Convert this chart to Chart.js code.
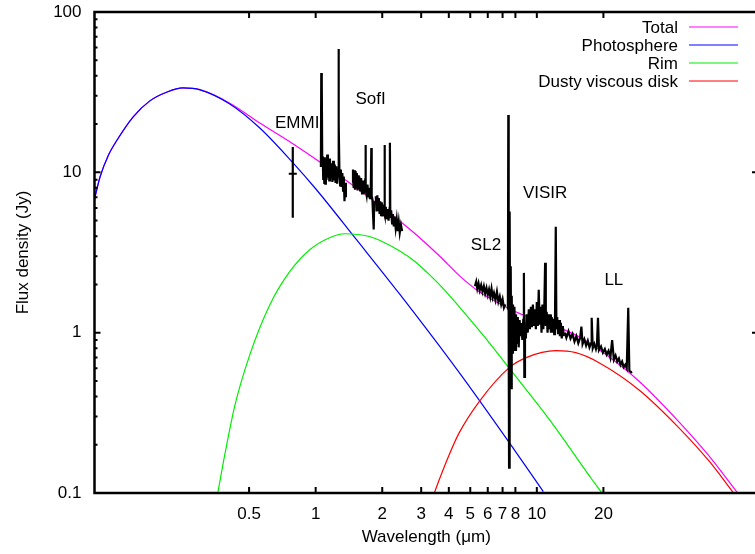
<!DOCTYPE html>
<html><head><meta charset="utf-8">
<script src="https://cdn.jsdelivr.net/npm/chart.js@4/dist/chart.umd.min.js"></script>
<style>html,body{margin:0;padding:0;overflow:hidden;background:#fff}</style>
</head><body>
<canvas id="c" width="764" height="554"></canvas>
<script>
// ---- tick values ----
const xTicks = [0.5, 1, 2, 3, 4, 5, 6, 7, 8, 10, 20];
const yTicks = [0.1, 1, 10, 100];

// ---- model curves [wavelength (um), flux (Jy)] ----
const total = [[0.0998,6.74],[0.106,9.38],[0.1153,12.7],[0.1265,15.9],[0.1496,22.2],[0.178,27.9],[0.213,31.7],[0.251,33.6],[0.300,32.8],[0.409,27.0],[0.559,20.3],[0.788,15.1],[1.075,11.3],[1.42,8.6],[1.88,6.46],[2.39,4.99],[2.85,4.08],[3.62,3.02],[4.46,2.27],[5.49,1.80],[6.76,1.52],[8.32,1.32],[10.24,1.19],[12.6,1.074],[15.5,0.944],[19.1,0.784],[28.9,0.50],[43.8,0.279],[59.9,0.171],[80.9,0.10]];
const photosphere = [[0.0998,6.74],[0.106,9.38],[0.1153,12.7],[0.1265,15.9],[0.1496,22.2],[0.178,27.9],[0.213,31.7],[0.251,33.6],[0.300,32.7],[0.409,26.7],[0.559,18.9],[0.788,11.5],[1.0,7.9],[1.53,3.80],[2.39,1.75],[4.46,0.563],[7.66,0.198],[10.7,0.102]];
const rim = [[0.361,0.10],[0.389,0.176],[0.431,0.351],[0.504,0.73],[0.620,1.49],[0.763,2.40],[0.94,3.29],[1.156,3.91],[1.35,4.14],[1.75,3.98],[1.944,3.77],[2.39,3.24],[2.80,2.79],[3.27,2.30],[3.82,1.85],[4.46,1.45],[5.79,0.944],[7.5,0.60],[11.4,0.287],[17.8,0.121],[19.7,0.10]];
const disk = [[3.44,0.10],[3.62,0.121],[4.02,0.174],[4.46,0.238],[5.49,0.372],[7.50,0.605],[8.95,0.699],[12.2,0.772],[15.0,0.750],[19.1,0.650],[28.9,0.441],[43.8,0.256],[59.9,0.159],[77.6,0.10]];

// ---- observations ----
const emmiPoint = [[0.788,9.8]];
const emmiErr = [[0.788,5.2],[0.788,14.4]];
const sofiJ = [[1.056,10.8],[1.060,41.7],[1.064,13.0],[1.067,36.0],[1.071,11.5],[1.076,12.6],[1.082,9.1],[1.088,11.8],[1.094,8.6],[1.100,12.4],[1.106,8.5],[1.112,11.6],[1.120,9.0],[1.128,12.9],[1.136,9.3],[1.144,11.9],[1.152,8.9],[1.160,12.2],[1.170,9.2],[1.180,11.4],[1.190,8.7],[1.200,11.8],[1.210,8.9],[1.220,11.2],[1.230,8.6],[1.240,10.9],[1.250,8.5],[1.262,10.4],[1.268,25.0],[1.271,58.8],[1.274,20.0],[1.280,10.6],[1.290,8.3],[1.300,10.4],[1.310,8.1],[1.320,9.9],[1.330,7.7],[1.340,9.4],[1.350,6.6],[1.360,8.6],[1.370,7.0]];
const sofiH = [[1.465,8.6],[1.475,10.4],[1.485,8.0],[1.495,10.3],[1.505,7.8],[1.515,10.2],[1.525,8.1],[1.535,9.9],[1.545,7.7],[1.555,9.6],[1.565,7.9],[1.575,9.4],[1.590,7.6],[1.605,9.2],[1.620,7.4],[1.635,8.9],[1.650,7.3],[1.665,8.6],[1.675,9.0],[1.680,14.8],[1.686,7.8],[1.700,7.2],[1.715,8.4],[1.730,7.0],[1.745,8.0],[1.760,6.8],[1.775,7.8],[1.785,14.2],[1.792,7.1],[1.805,6.8],[1.820,5.2],[1.830,4.4],[1.840,6.6]];
const sofiK = [[1.870,7.1],[1.885,5.7],[1.900,7.2],[1.915,5.8],[1.930,6.9],[1.945,5.5],[1.960,6.6],[1.975,5.4],[1.990,6.5],[2.005,5.3],[2.020,6.3],[2.040,5.6],[2.048,14.8],[2.056,5.4],[2.075,6.1],[2.095,5.1],[2.115,5.9],[2.135,5.0],[2.160,6.0],[2.166,15.3],[2.175,5.2],[2.195,5.8],[2.215,4.8],[2.235,5.5],[2.255,4.6],[2.275,5.3],[2.300,4.5],[2.325,5.1],[2.350,4.3],[2.375,4.9],[2.400,4.2],[2.430,4.7],[2.460,4.3]];
const sl2 = [[5.25,1.95],[5.32,2.08],[5.38,1.88],[5.45,2.03],[5.52,1.84],[5.60,1.98],[5.68,1.80],[5.76,1.95],[5.84,1.76],[5.92,1.90],[6.00,1.72],[6.08,1.86],[6.16,1.68],[6.24,1.88],[6.32,1.66],[6.40,1.77],[6.50,1.60],[6.60,1.80],[6.70,1.56],[6.80,1.68],[6.90,1.50],[7.00,1.62],[7.10,1.43],[7.20,1.50]];
const visir = [[7.35,1.40],[7.40,1.9],[7.43,22.8],[7.46,0.9],[7.49,0.144],[7.52,2.2],[7.55,5.7],[7.58,0.6],[7.62,2.6],[7.66,0.45],[7.70,1.7],[7.75,0.75],[7.80,1.5],[7.86,0.95],[7.92,1.45],[7.98,0.78],[8.05,1.30],[8.12,0.85],[8.20,1.25],[8.28,0.81],[8.36,1.20],[8.44,0.95],[8.52,1.15],[8.60,0.90],[8.68,1.20],[8.74,2.36],[8.78,0.53],[8.84,1.10],[8.92,0.92],[9.00,1.30],[9.10,1.00],[9.20,1.40],[9.30,1.05],[9.40,1.45],[9.50,1.08],[9.60,1.50],[9.70,1.10],[9.80,1.40],[9.90,1.05],[10.00,1.55],[10.10,1.10],[10.20,1.85],[10.30,1.12],[10.40,1.45],[10.50,1.00],[10.60,1.50],[10.70,1.05],[10.80,1.35],[10.90,2.73],[10.98,1.10],[11.08,1.35],[11.18,1.00],[11.28,1.30],[11.38,1.05],[11.48,1.30],[11.58,1.00],[11.68,1.25],[11.78,1.00],[11.88,1.22],[11.98,0.98],[12.08,1.20],[12.18,4.57],[12.26,1.05],[12.36,1.25],[12.48,0.98],[12.60,1.20],[12.72,0.95],[12.84,1.15],[12.96,0.92],[13.10,1.10],[13.25,0.95]];
const ll = [[13.4,1.00],[13.6,0.93],[13.9,1.02],[14.2,0.92],[14.5,0.98],[14.8,0.88],[15.1,0.95],[15.4,0.86],[15.7,0.93],[15.9,1.09],[16.1,0.85],[16.4,0.91],[16.7,0.83],[17.0,0.89],[17.3,0.81],[17.6,0.86],[17.7,1.24],[17.9,0.80],[18.2,0.85],[18.5,0.79],[18.7,0.84],[18.9,1.24],[19.1,0.78],[19.5,0.82],[19.9,0.75],[20.3,0.79],[20.7,0.73],[21.1,0.77],[21.5,0.70],[21.9,0.90],[22.3,0.68],[22.7,0.72],[23.1,0.66],[23.5,0.69],[23.9,0.63],[24.3,0.66],[24.7,0.61],[25.1,0.63],[25.5,0.60],[25.9,1.43],[26.2,0.58],[26.6,0.57],[26.9,0.56]];

// ---- text notes [label, wavelength, flux at baseline] ----
const notes = [["EMMI",0.825,18.9],["SofI",1.77,26.6],["SL2",5.89,3.26],["VISIR",10.9,6.91],["LL",22.3,1.99]];

const FONT = "'Liberation Sans', Arial, Helvetica, sans-serif";
const toXY = arr => arr.map(p => ({x: p[0], y: p[1]}));
const model = (label, arr, color, order) => ({label, data: toXY(arr), borderColor: color, backgroundColor: color,
  borderWidth: 1.2, pointRadius: 0, showLine: true, fill: false, cubicInterpolationMode: 'monotone', order, isModel: true});
const spec = (label, arr) => ({label, data: toXY(arr), borderColor: '#000', backgroundColor: '#000',
  borderWidth: 2.2, pointRadius: 0, showLine: true, fill: false, tension: 0, order: 0});

const frameTicks = {
  id: 'frameTicks',
  afterDatasetsDraw(chart) {
    const {ctx, chartArea: a, scales: {x, y}} = chart;
    ctx.save();
    ctx.strokeStyle = '#000';
    ctx.lineWidth = 2;
    ctx.beginPath();
    for (const v of xTicks) {
      const px = x.getPixelForValue(v);
      ctx.moveTo(px, a.bottom); ctx.lineTo(px, a.bottom - 6);
      ctx.moveTo(px, a.top); ctx.lineTo(px, a.top + 6);
    }
    for (const d of yTicks) {
      const py = y.getPixelForValue(d);
      ctx.moveTo(a.left, py); ctx.lineTo(a.left + 6, py);
      ctx.moveTo(a.right, py); ctx.lineTo(a.right - 6, py);
      if (d < 100) {
        for (let k = 2; k <= 9; k++) {
          const q = y.getPixelForValue(d * k);
          ctx.moveTo(a.left, q); ctx.lineTo(a.left + 3, q);
          ctx.moveTo(a.right, q); ctx.lineTo(a.right - 3, q);
        }
      }
    }
    ctx.stroke();
    ctx.lineWidth = 2.5;
    ctx.strokeRect(a.left, a.top, a.right - a.left, a.bottom - a.top);
    // notes
    ctx.fillStyle = '#000';
    ctx.font = '17px ' + FONT;
    ctx.textAlign = 'center';
    ctx.textBaseline = 'alphabetic';
    for (const [t, wx, fy] of notes) ctx.fillText(t, x.getPixelForValue(wx), y.getPixelForValue(fy));
    // legend (right aligned text, sample on the right)
    const models = chart.data.datasets.filter(d => d.isModel);
    ctx.textAlign = 'right';
    models.forEach((d, i) => {
      const ly = a.top + 15 + i * 18;
      ctx.fillStyle = '#000';
      ctx.fillText(d.label, 678, ly + 6);
      ctx.strokeStyle = d.borderColor;
      ctx.lineWidth = 1.2;
      ctx.beginPath();
      ctx.moveTo(689, ly); ctx.lineTo(738, ly);
      ctx.stroke();
    });
    ctx.restore();
  }
};

new Chart(document.getElementById('c'), {
  type: 'scatter',
  data: {
    datasets: [
      model('Total', total, '#ff00ff', 4),
      model('Photosphere', photosphere, '#0000ff', 3),
      model('Rim', rim, '#00ee00', 2),
      model('Dusty viscous disk', disk, '#ff0000', 1),
      spec('SofI J', sofiJ), spec('SofI H', sofiH), spec('SofI K', sofiK),
      spec('SL2', sl2), spec('VISIR', visir), spec('LL', ll),
      spec('EMMI err', emmiErr),
      {label: 'EMMI', data: toXY(emmiPoint), pointStyle: 'line', pointRadius: 4, borderWidth: 2,
       borderColor: '#000', backgroundColor: '#000', showLine: false, order: 0}
    ]
  },
  options: {
    responsive: false,
    devicePixelRatio: 1,
    animation: false,
    layout: {padding: {left: 0, top: 12, right: 4.5, bottom: 0}},
    plugins: {legend: {display: false}, tooltip: {enabled: false}},
    scales: {
      x: {
        type: 'logarithmic', min: 0.1, max: 100,
        grid: {display: false}, border: {display: false},
        afterBuildTicks: s => { s.ticks = xTicks.map(v => ({value: v})); },
        afterFit: s => { s.height = 61; s.paddingLeft = 0; s.paddingRight = 0; },
        ticks: {autoSkip: false, maxRotation: 0, padding: 3, color: '#000',
                font: {family: FONT, size: 17}, callback: v => String(v)},
        title: {display: true, text: 'Wavelength (μm)', color: '#000',
                font: {family: FONT, size: 17}, padding: {top: 0, bottom: 6}}
      },
      y: {
        type: 'logarithmic', min: 0.1, max: 100,
        grid: {display: false}, border: {display: false},
        afterBuildTicks: s => { s.ticks = yTicks.map(v => ({value: v})); },
        afterFit: s => { s.width = 94.5; s.paddingTop = 0; s.paddingBottom = 0; },
        ticks: {autoSkip: false, padding: 5, color: '#000',
                font: {family: FONT, size: 17}, callback: v => String(v)},
        title: {display: true, text: 'Flux density (Jy)', color: '#000',
                font: {family: FONT, size: 17}, padding: {top: 13.5, bottom: 0}}
      }
    }
  },
  plugins: [frameTicks]
});
</script>
</body></html>
